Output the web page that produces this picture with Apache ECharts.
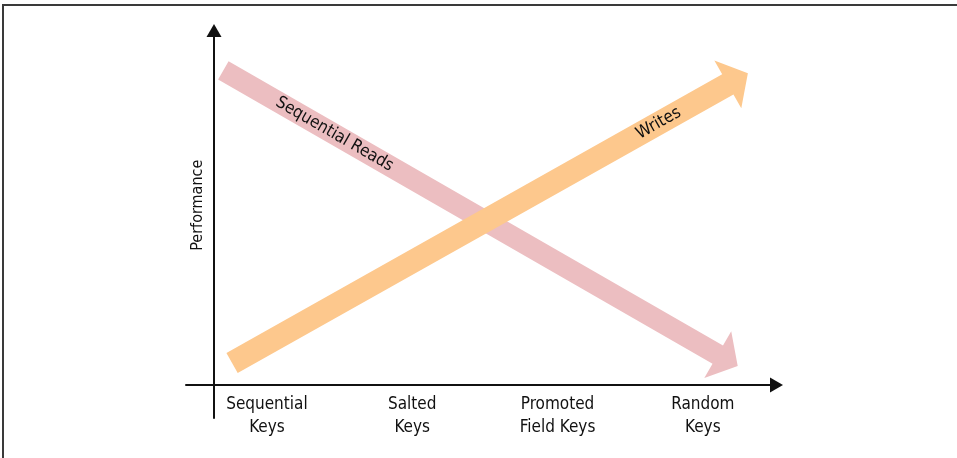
<!DOCTYPE html>
<html><head><meta charset="utf-8">
<script src="https://cdn.jsdelivr.net/npm/echarts@6/dist/echarts.min.js"></script>
<style>
html,body{margin:0;padding:0;background:#fff;}
#c{position:absolute;left:0;top:0;width:957px;height:458px;}
#frame{position:absolute;left:2px;top:4px;width:1000px;height:500px;border-top:2px solid #3a3a3a;border-left:2px solid #3a3a3a;pointer-events:none;}
</style></head>
<body>
<div id="c"></div><div id="frame"></div>
<script>
// Category labels on the x axis (positions 0..3)
const categories = ['Sequential\nKeys', 'Salted\nKeys', 'Promoted\nField Keys', 'Random\nKeys'];
const categoryValues = [0, 1, 2, 3];
// Arrow series: [startX, startY, endX, endY] in axis units (performance 0-100)
const seriesNames = ['Sequential Reads', 'Writes'];
const readsArrow = [-0.30, 89.7, 3.24, 13.4];
const writesArrow = [-0.24, 14.2, 3.31, 89.0];

const FONT = '"Liberation Sans Narrow", "DejaVu Sans Condensed", "Arial Narrow", sans-serif';

function makeRender(color, shaftHalf, headLen, headHalf, labelT, labelText) {
  return function (params, api) {
    const p0 = api.coord([api.value(0), api.value(1)]);
    const p1 = api.coord([api.value(2), api.value(3)]);
    const dx = p1[0] - p0[0], dy = p1[1] - p0[1];
    const len = Math.sqrt(dx * dx + dy * dy);
    const ux = dx / len, uy = dy / len;
    const nx = -uy, ny = ux;
    const bx = p1[0] - ux * headLen, by = p1[1] - uy * headLen;
    const pts = [
      [p0[0] + nx * shaftHalf, p0[1] + ny * shaftHalf],
      [bx + nx * shaftHalf, by + ny * shaftHalf],
      [bx + nx * headHalf, by + ny * headHalf],
      [p1[0], p1[1]],
      [bx - nx * headHalf, by - ny * headHalf],
      [bx - nx * shaftHalf, by - ny * shaftHalf],
      [p0[0] - nx * shaftHalf, p0[1] - ny * shaftHalf]
    ];
    const lx = p0[0] + dx * labelT, ly = p0[1] + dy * labelT;
    return {
      type: 'group',
      children: [
        { type: 'polygon', shape: { points: pts }, style: { fill: color } },
        { type: 'text', x: lx, y: ly, rotation: -Math.atan2(dy, dx),
          style: { text: labelText, fill: '#111', font: '17px ' + FONT, align: 'center', verticalAlign: 'middle' } }
      ]
    };
  };
}

const chart = echarts.init(document.getElementById('c'), null, { renderer: 'canvas' });
chart.setOption({
  animation: false,
  backgroundColor: '#fff',
  grid: { left: 186, right: 180.5, top: 30.5, bottom: 40 },
  xAxis: {
    type: 'value', min: -0.557, max: 3.507, offset: -33,
    axisLine: { onZero: false, lineStyle: { color: '#111', width: 2 }, symbol: ['none', 'triangle'], symbolSize: [15, 13] },
    axisTick: { show: false }, splitLine: { show: false },
    axisLabel: {
      customValues: categoryValues,
      formatter: function (v) { return categories[Math.round(v)]; },
      fontFamily: FONT, fontSize: 17, lineHeight: 23, color: '#111', margin: 8, align: 'center'
    }
  },
  yAxis: {
    type: 'value', min: 0, max: 100, position: 'left', offset: -28,
    axisLine: { show: true, onZero: false, lineStyle: { color: '#111', width: 2 }, symbol: ['none', 'triangle'], symbolSize: [15, 13] },
    axisTick: { show: false }, splitLine: { show: false }, axisLabel: { show: false },
    name: 'Performance', nameLocation: 'middle', nameGap: 8, nameRotate: 90,
    nameTextStyle: { fontFamily: FONT, fontSize: 16, color: '#111', padding: [0, 0, 0, 38] }
  },
  series: [
    { type: 'custom', name: seriesNames[0], data: [readsArrow],
      renderItem: makeRender('#ecbec1', 10.5, 23, 27, 0.216, seriesNames[0]) },
    { type: 'custom', name: seriesNames[1], data: [writesArrow],
      renderItem: makeRender('#fdc88d', 11.5, 23, 27.5, 0.827, seriesNames[1]) }
  ]
});
</script>
</body></html>
